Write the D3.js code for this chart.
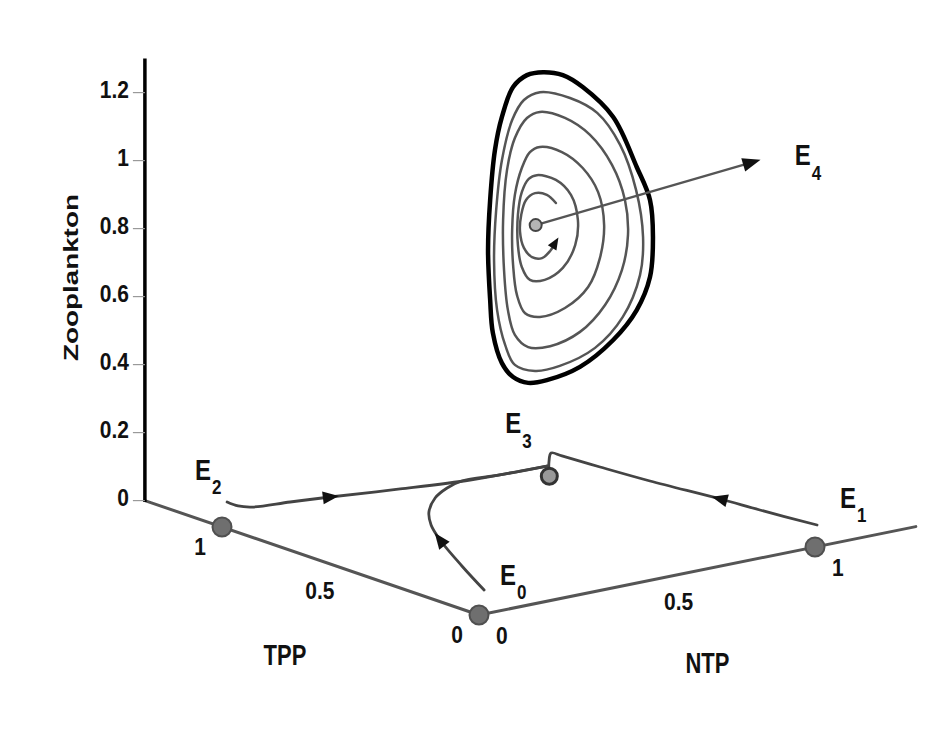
<!DOCTYPE html>
<html>
<head>
<meta charset="utf-8">
<script src="https://cdn.jsdelivr.net/npm/d3@7"></script>
<style>
  html, body { margin: 0; padding: 0; background: #fff; }
  svg { display: block; }
  text { font-family: "Liberation Sans", Arial, Helvetica, sans-serif; fill: #111; font-weight: bold; }
</style>
</head>
<body>
<svg id="chart" width="926" height="747"></svg>
<script>
// ---- axis ticks -------------------------------------------------------
const axisMax = 1.3;
const tppTicks = [0, 0.5, 1];
const tppTickLabels = ["0", "0.5", "1"];
const ntpTicks = [0, 0.5, 1];
const ntpTickLabels = ["0", "0.5", "1"];
const zooTicks = [0, 0.2, 0.4, 0.6, 0.8, 1, 1.2];
const zooTickLabels = ["0", "0.2", "0.4", "0.6", "0.8", "1", "1.2"];

// ---- equilibria (TPP, NTP, Zooplankton) -------------------------------
const eqNames = ["E0", "E1", "E2", "E3", "E4"];
const eqTPP = [0, 0, 1, 0.89, 0.76];
const eqNTP = [0, 1, 0, 0.89, 0.75];
const eqZoo = [0, 0, 0, 0, 0.8];

// ---- trajectories in the zooplankton-free plane: [TPP, NTP, Zoo] ------
const orbitFromE2 = [
  [1.171, 0.146, 0], [1.127, 0.145, 0], [1.099, 0.165, 0], [1.080, 0.264, 0],
  [1.058, 0.366, 0], [1.014, 0.541, 0], [0.977, 0.721, 0], [0.969, 0.863, 0],
  [0.966, 0.941, 0]
];
const orbitFromE0 = [
  [0.171, 0.146, 0], [0.375, 0.236, 0], [0.592, 0.337, 0], [0.712, 0.402, 0],
  [0.808, 0.469, 0], [0.899, 0.557, 0], [0.953, 0.634, 0], [0.982, 0.700, 0],
  [0.970, 0.804, 0], [0.966, 0.941, 0]
];
const orbitFromE1 = [
  [0.154, 1.124, 0], [0.344, 1.099, 0], [0.480, 1.085, 0], [0.710, 1.052, 0],
  [0.882, 1.035, 0], [1.016, 1.024, 0], [1.053, 1.020, 0], [0.992, 0.967, 0],
  [0.920, 0.912, 0]
];

// ---- oscillations around E4: [TPP, NTP, Zoo] ---------------------------
const limitCycle = [
  [0.749, 0.764, 1.250], [0.721, 0.801, 1.241], [0.692, 0.838, 1.206], [0.648, 0.895, 1.118],
  [0.614, 0.939, 0.971], [0.595, 0.964, 0.874], [0.590, 0.969, 0.765], [0.595, 0.964, 0.647],
  [0.614, 0.939, 0.550], [0.648, 0.895, 0.462], [0.696, 0.833, 0.383], [0.744, 0.771, 0.344],
  [0.771, 0.736, 0.336], [0.793, 0.708, 0.353], [0.809, 0.687, 0.394], [0.822, 0.670, 0.483],
  [0.826, 0.665, 0.580], [0.829, 0.661, 0.727], [0.826, 0.665, 0.874], [0.819, 0.674, 1.021],
  [0.809, 0.687, 1.118], [0.793, 0.708, 1.206], [0.773, 0.734, 1.241]
];
const orbit2 = [
  [0.754, 0.758, 1.191], [0.710, 0.814, 1.174], [0.671, 0.865, 1.130], [0.638, 0.908, 1.036],
  [0.615, 0.938, 0.903], [0.605, 0.951, 0.765], [0.609, 0.945, 0.653], [0.634, 0.913, 0.530],
  [0.674, 0.861, 0.439], [0.725, 0.795, 0.386], [0.761, 0.749, 0.371], [0.790, 0.711, 0.389],
  [0.804, 0.693, 0.447], [0.816, 0.678, 0.550], [0.820, 0.672, 0.697], [0.817, 0.676, 0.844],
  [0.809, 0.687, 0.991], [0.794, 0.706, 1.109], [0.777, 0.728, 1.168]
];
const orbit3 = [
  [0.754, 0.758, 1.133], [0.718, 0.805, 1.115], [0.682, 0.852, 1.065], [0.650, 0.893, 0.977],
  [0.631, 0.917, 0.874], [0.627, 0.923, 0.771], [0.635, 0.911, 0.668], [0.660, 0.880, 0.565],
  [0.696, 0.833, 0.486], [0.739, 0.777, 0.444], [0.771, 0.736, 0.441], [0.790, 0.711, 0.477],
  [0.800, 0.698, 0.550], [0.806, 0.691, 0.668], [0.807, 0.689, 0.815], [0.801, 0.696, 0.962],
  [0.790, 0.711, 1.056], [0.773, 0.734, 1.115]
];
const orbit4 = [
  [0.754, 0.758, 1.030], [0.722, 0.799, 1.015], [0.692, 0.838, 0.968], [0.670, 0.867, 0.897],
  [0.661, 0.878, 0.800], [0.667, 0.870, 0.703], [0.684, 0.848, 0.618], [0.718, 0.805, 0.556],
  [0.754, 0.758, 0.530], [0.775, 0.730, 0.541], [0.787, 0.715, 0.594], [0.793, 0.708, 0.683],
  [0.794, 0.706, 0.786], [0.790, 0.711, 0.889], [0.780, 0.724, 0.968], [0.768, 0.739, 1.015]
];
const orbit5 = [
  [0.758, 0.752, 0.947], [0.731, 0.788, 0.933], [0.709, 0.816, 0.889], [0.699, 0.829, 0.815],
  [0.703, 0.824, 0.741], [0.721, 0.801, 0.674], [0.747, 0.767, 0.639], [0.768, 0.739, 0.639],
  [0.780, 0.724, 0.677], [0.786, 0.717, 0.741], [0.786, 0.717, 0.830], [0.780, 0.724, 0.897],
  [0.770, 0.737, 0.936]
];
const innerOrbit = [
  [0.731, 0.788, 0.865], [0.744, 0.771, 0.889], [0.761, 0.749, 0.894], [0.774, 0.732, 0.874],
  [0.781, 0.723, 0.830], [0.783, 0.721, 0.780], [0.777, 0.728, 0.733], [0.765, 0.743, 0.706],
  [0.751, 0.762, 0.703], [0.739, 0.777, 0.724], [0.732, 0.786, 0.747]
];

// ---- oblique 3-D projection built from linear scales -------------------
const origin = [479, 615];
const tppX = d3.scaleLinear().domain([0, axisMax]).range([0, -257 * axisMax]);
const tppY = d3.scaleLinear().domain([0, axisMax]).range([0, -88 * axisMax]);
const ntpX = d3.scaleLinear().domain([0, axisMax]).range([0, 336 * axisMax]);
const ntpY = d3.scaleLinear().domain([0, axisMax]).range([0, -68 * axisMax]);
const zooY = d3.scaleLinear().domain([0, axisMax]).range([0, -340 * axisMax]);

function project(t, n, z) {
  return [origin[0] + tppX(t) + ntpX(n), origin[1] + tppY(t) + ntpY(n) + zooY(z)];
}
const projPts = arr => arr.map(p => project(p[0], p[1], p[2]));

const svg = d3.select("#chart");
const g = svg.append("g");

// ---- axes ---------------------------------------------------------------
const corner = project(axisMax, 0, 0);
const ntpEnd = project(0, axisMax, 0);
const zooTop = project(axisMax, 0, axisMax);

g.append("line")
  .attr("x1", corner[0]).attr("y1", corner[1])
  .attr("x2", origin[0]).attr("y2", origin[1])
  .attr("stroke", "#555").attr("stroke-width", 3).attr("stroke-linecap", "round");
g.append("line")
  .attr("x1", origin[0]).attr("y1", origin[1])
  .attr("x2", ntpEnd[0]).attr("y2", ntpEnd[1])
  .attr("stroke", "#555").attr("stroke-width", 3).attr("stroke-linecap", "round");
g.append("line")
  .attr("x1", zooTop[0]).attr("y1", zooTop[1])
  .attr("x2", corner[0]).attr("y2", corner[1] + 1.5)
  .attr("stroke", "#000").attr("stroke-width", 3.5);

function stretched(parent, x, y, str, size, sy, anchor) {
  return parent.append("text")
    .attr("transform", `translate(${x},${y}) scale(1,${sy})`)
    .attr("text-anchor", anchor)
    .style("font-size", size + "px")
    .text(str);
}

// zooplankton ticks
zooTicks.forEach((v, i) => {
  const p = project(axisMax, 0, v);
  g.append("line")
    .attr("x1", p[0] - 12).attr("y1", p[1])
    .attr("x2", p[0]).attr("y2", p[1])
    .attr("stroke", "#999").attr("stroke-width", 1.2);
  stretched(g, p[0] - 16, p[1] + 5.5, zooTickLabels[i], 21, 1.15, "end");
});
// TPP tick labels
tppTicks.forEach((v, i) => {
  const p = project(v, 0, 0);
  stretched(g, p[0] - 16, p[1] + 27.5, tppTickLabels[i], 21, 1.15, "end");
});
// NTP tick labels
ntpTicks.forEach((v, i) => {
  const p = project(0, v, 0);
  stretched(g, p[0] + 17, p[1] + 28.5, ntpTickLabels[i], 21, 1.15, "start");
});

// axis titles
const tppMid = project(0.65, 0, 0);
stretched(g, tppMid[0] - 27, tppMid[1] + 107, "TPP", 22, 1.35, "middle");
const ntpMid = project(0, 0.65, 0);
stretched(g, ntpMid[0] + 10, ntpMid[1] + 102, "NTP", 22, 1.35, "middle");
const zooMid = project(axisMax, 0, 0.65);
g.append("text")
  .attr("transform", `translate(${zooMid[0] - 67},${zooMid[1] - 2}) rotate(-90)`)
  .attr("text-anchor", "middle")
  .attr("textLength", 167)
  .attr("lengthAdjust", "spacingAndGlyphs")
  .style("font-size", "21px")
  .text("Zooplankton");

// ---- trajectories -------------------------------------------------------
const smooth = d3.line().curve(d3.curveCatmullRom.alpha(0.5));
const smoothClosed = d3.line().curve(d3.curveCatmullRomClosed.alpha(0.5));

function arrowHead(p, dir, len, half) {
  const [dx, dy] = dir;
  const tip = [p[0] + dx * len * 0.55, p[1] + dy * len * 0.55];
  const base = [p[0] - dx * len * 0.45, p[1] - dy * len * 0.45];
  const nx = -dy, ny = dx;
  g.append("path")
    .attr("d", `M${tip[0]},${tip[1]}L${base[0] + nx * half},${base[1] + ny * half}L${base[0] - nx * half},${base[1] - ny * half}Z`)
    .attr("fill", "#111");
}
function dirAt(pts, i) {
  const a = pts[Math.max(0, i - 1)], b = pts[Math.min(pts.length - 1, i + 1)];
  const L = Math.hypot(b[0] - a[0], b[1] - a[1]);
  return [(b[0] - a[0]) / L, (b[1] - a[1]) / L];
}

const planeOrbits = [
  { data: orbitFromE2, arrow: 4 },
  { data: orbitFromE0, arrow: 2 },
  { data: orbitFromE1, arrow: 2 }
];
planeOrbits.forEach(o => {
  const pts = projPts(o.data);
  g.append("path").attr("d", smooth(pts))
    .attr("fill", "none").attr("stroke", "#444")
    .attr("stroke-width", 2.8).attr("stroke-linecap", "round").attr("stroke-linejoin", "round");
  arrowHead(pts[o.arrow], dirAt(pts, o.arrow), 16, 6.5);
});

// nested oscillations and the limit cycle
[orbit2, orbit3, orbit4, orbit5].forEach(o => {
  g.append("path").attr("d", smoothClosed(projPts(o)))
    .attr("fill", "none").attr("stroke", "#555").attr("stroke-width", 2.5);
});
const innerPts = projPts(innerOrbit);
g.append("path").attr("d", smooth(innerPts))
  .attr("fill", "none").attr("stroke", "#555").attr("stroke-width", 2.5).attr("stroke-linecap", "round");
arrowHead(innerPts[innerPts.length - 1], dirAt(innerPts, innerPts.length - 1), 12, 5);

g.append("path").attr("d", smoothClosed(projPts(limitCycle)))
  .attr("fill", "none").attr("stroke", "#000").attr("stroke-width", 4.5);

// ---- equilibria --------------------------------------------------------
const eqPts = eqNames.map((d, i) => project(eqTPP[i], eqNTP[i], eqZoo[i]));

// pointer from E4 to its label
const e4 = eqPts[4];
const tip = [e4[0] + 224, e4[1] - 65];
const pdir = (() => { const L = Math.hypot(tip[0] - e4[0], tip[1] - e4[1]); return [(tip[0] - e4[0]) / L, (tip[1] - e4[1]) / L]; })();
g.append("line")
  .attr("x1", e4[0]).attr("y1", e4[1])
  .attr("x2", tip[0] - pdir[0] * 10).attr("y2", tip[1] - pdir[1] * 10)
  .attr("stroke", "#555").attr("stroke-width", 2.2);
arrowHead([tip[0] - pdir[0] * 9, tip[1] - pdir[1] * 9], pdir, 18, 7);

const markerStyle = [
  { r: 9.5, fill: "#6f6f6f", stroke: "#505050", sw: 2 },
  { r: 9.5, fill: "#6f6f6f", stroke: "#505050", sw: 2 },
  { r: 9.5, fill: "#6f6f6f", stroke: "#505050", sw: 2 },
  { r: 8, fill: "#999", stroke: "#333", sw: 3 },
  { r: 6, fill: "#b5b5b5", stroke: "#444", sw: 2 }
];
eqPts.forEach((p, i) => {
  const s = markerStyle[i];
  g.append("circle").attr("cx", p[0]).attr("cy", p[1]).attr("r", s.r)
    .attr("fill", s.fill).attr("stroke", s.stroke).attr("stroke-width", s.sw);
});

// equilibrium labels
const labelOffsets = [[21, -30], [25, -39], [-27, -47], [-44, -43], [259, -60]];
eqNames.forEach((name, i) => {
  const p = eqPts[i];
  const t = g.append("text")
    .attr("transform", `translate(${p[0] + labelOffsets[i][0]},${p[1] + labelOffsets[i][1]}) scale(1,1.2)`)
    .style("font-size", "24px");
  t.append("tspan").text(name[0]);
  t.append("tspan").attr("dx", 1).attr("dy", 12).style("font-size", "17px").text(name.slice(1));
});
</script>
</body>
</html>
